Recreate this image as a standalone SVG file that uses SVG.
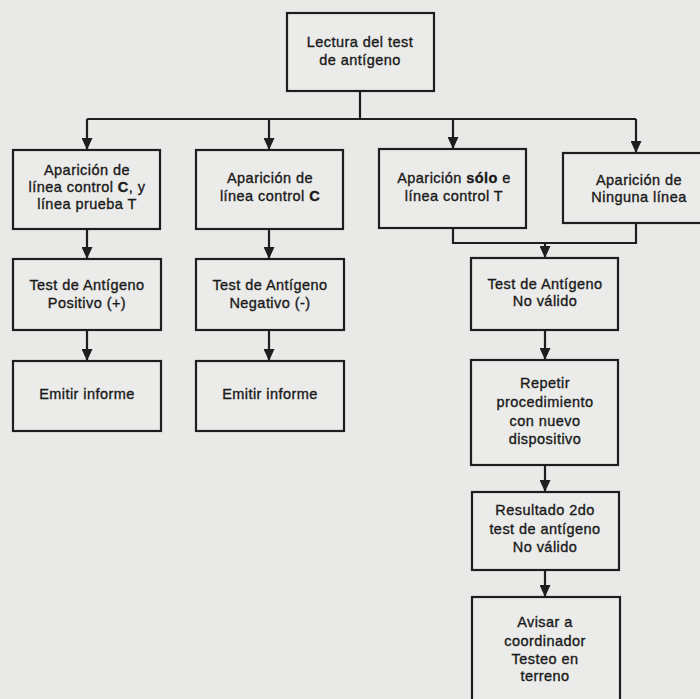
<svg xmlns="http://www.w3.org/2000/svg" width="700" height="699" viewBox="0 0 700 699">
  <style>
    .box { fill: #ebebe9; stroke: #1e1e1e; stroke-width: 2.2; }
    .wire { fill: none; stroke: #1e1e1e; stroke-width: 2.2; }
    .lbl { font-family: "Liberation Sans", Arial, sans-serif; font-size: 14.5px; letter-spacing: 0.45px; fill: #1a1a1a; stroke: #1a1a1a; stroke-width: 0.35; text-anchor: middle; }
    .b { font-weight: bold; }
  </style>
  <defs>
    <marker id="arrowDown" markerUnits="userSpaceOnUse" markerWidth="12" markerHeight="11" viewBox="0 0 12 11" refX="11" refY="5.5" orient="auto">
      <path d="M0,0 L12,5.5 L0,11 Z" fill="#1e1e1e"/>
    </marker>
  </defs>

  <rect width="700" height="699" fill="#e9e9e7"/>

  <!-- connectors -->
  <g id="connectors">
    <path class="wire" d="M360,91 V119"/>
    <path class="wire" d="M87,119 H636"/>
    <path class="wire" d="M87,119 V149" marker-end="url(#arrowDown)"/>
    <path class="wire" d="M269,119 V149" marker-end="url(#arrowDown)"/>
    <path class="wire" d="M453,119 V148" marker-end="url(#arrowDown)"/>
    <path class="wire" d="M636,119 V152" marker-end="url(#arrowDown)"/>

    <path class="wire" d="M87,229 V258" marker-end="url(#arrowDown)"/>
    <path class="wire" d="M87,330 V360" marker-end="url(#arrowDown)"/>
    <path class="wire" d="M269,229 V258" marker-end="url(#arrowDown)"/>
    <path class="wire" d="M269,330 V360" marker-end="url(#arrowDown)"/>

    <path class="wire" d="M453,228 V243 H636 V223"/>
    <path class="wire" d="M545,243 V257" marker-end="url(#arrowDown)"/>
    <path class="wire" d="M545,330 V359" marker-end="url(#arrowDown)"/>
    <path class="wire" d="M545,465 V491" marker-end="url(#arrowDown)"/>
    <path class="wire" d="M545,570 V596" marker-end="url(#arrowDown)"/>
  </g>

  <g id="lectura">
    <rect class="box" x="287" y="13" width="147" height="78"/>
    <text class="lbl" x="360" y="47">Lectura del test</text>
    <text class="lbl" x="360" y="65">de antígeno</text>
  </g>

  <g id="linea-c-y-t">
    <rect class="box" x="13" y="150" width="147" height="79"/>
    <text class="lbl" x="87" y="175">Aparición de</text>
    <text class="lbl" x="87" y="192">línea control <tspan class="b">C</tspan>, y</text>
    <text class="lbl" x="87" y="209">línea prueba T</text>
  </g>

  <g id="linea-c">
    <rect class="box" x="196" y="150" width="147" height="79"/>
    <text class="lbl" x="270" y="183">Aparición de</text>
    <text class="lbl" x="270" y="201">línea control <tspan class="b">C</tspan></text>
  </g>

  <g id="linea-t">
    <rect class="box" x="379" y="149" width="147" height="79"/>
    <text class="lbl" x="454" y="183">Aparición <tspan class="b">sólo</tspan> e</text>
    <text class="lbl" x="454" y="201">línea control T</text>
  </g>

  <g id="ninguna">
    <rect class="box" x="563" y="153" width="146" height="70"/>
    <text class="lbl" x="639" y="185">Aparición de</text>
    <text class="lbl" x="639" y="202">Ninguna línea</text>
  </g>

  <g id="positivo">
    <rect class="box" x="13" y="259" width="148" height="71"/>
    <text class="lbl" x="87" y="290">Test de Antígeno</text>
    <text class="lbl" x="87" y="308">Positivo (+)</text>
  </g>

  <g id="informe-positivo">
    <rect class="box" x="13" y="361" width="148" height="70"/>
    <text class="lbl" x="87" y="399">Emitir informe</text>
  </g>

  <g id="negativo">
    <rect class="box" x="196" y="259" width="148" height="71"/>
    <text class="lbl" x="270" y="290">Test de Antígeno</text>
    <text class="lbl" x="270" y="308">Negativo (-)</text>
  </g>

  <g id="informe-negativo">
    <rect class="box" x="196" y="361" width="148" height="70"/>
    <text class="lbl" x="270" y="399">Emitir informe</text>
  </g>

  <g id="no-valido">
    <rect class="box" x="471" y="258" width="147" height="72"/>
    <text class="lbl" x="545" y="289">Test de Antígeno</text>
    <text class="lbl" x="545" y="306">No válido</text>
  </g>

  <g id="repetir">
    <rect class="box" x="471" y="360" width="147" height="105"/>
    <text class="lbl" x="545" y="388">Repetir</text>
    <text class="lbl" x="545" y="407">procedimiento</text>
    <text class="lbl" x="545" y="426">con nuevo</text>
    <text class="lbl" x="545" y="444">dispositivo</text>
  </g>

  <g id="resultado">
    <rect class="box" x="472" y="492" width="147" height="78"/>
    <text class="lbl" x="545" y="515">Resultado 2do</text>
    <text class="lbl" x="545" y="534">test de antígeno</text>
    <text class="lbl" x="545" y="552">No válido</text>
  </g>

  <g id="avisar">
    <rect class="box" x="472" y="597" width="148" height="110"/>
    <text class="lbl" x="545" y="627">Avisar a</text>
    <text class="lbl" x="545" y="646">coordinador</text>
    <text class="lbl" x="545" y="664">Testeo en</text>
    <text class="lbl" x="545" y="681">terreno</text>
  </g>
</svg>
